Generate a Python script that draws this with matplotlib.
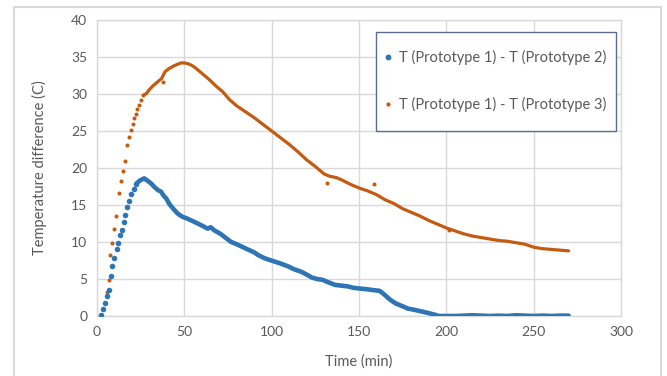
import matplotlib
matplotlib.use("Agg")
import matplotlib.pyplot as plt
from matplotlib.patches import Rectangle

# ---- data ----
# Series 1: T(Prototype 1) - T(Prototype 2)
blue_sparse_t = [2.2, 3.2, 4.4, 5.6, 6.8, 8.0, 8.7, 10.0, 11.2, 11.9, 13.1, 14.1,
                 15.3, 16.3, 17.2, 18.5, 19.7, 21.1, 22.6]
blue_sparse_v = [0.1, 1.0, 1.7, 2.7, 3.5, 5.4, 6.7, 7.8, 9.0, 9.9, 10.9, 11.6,
                 12.7, 13.6, 14.7, 15.6, 16.5, 17.2, 17.9]
blue_dense_t = [22.6, 24.5, 27, 29.4, 31, 33, 35, 36.7, 38, 39.6, 41.5, 44, 46.4, 49, 51.3,
                55, 58.5, 61, 63.4, 65.1, 67, 70.7, 74, 76.8, 80, 85.3, 90, 92.5,
                96, 99.8, 105, 109.5, 113, 116.8, 120, 123, 126, 129, 132, 136.3,
                140, 143.6, 147, 150.8, 155, 158.1, 161.8, 164, 167.8, 171, 175.1,
                178, 182.4, 186, 189.7, 193, 195.8, 200, 205, 210, 215, 220, 225,
                230, 235, 240, 245, 250, 255, 260, 265, 270]
blue_dense_v = [17.9, 18.3, 18.6, 18.2, 17.9, 17.4, 17.0, 16.8, 16.3, 15.9, 15.1, 14.4, 13.8,
                13.4, 13.2, 12.8, 12.4, 12.1, 11.8, 12.0, 11.6, 11.1, 10.5, 10.0,
                9.7, 9.1, 8.6, 8.2, 7.8, 7.5, 7.1, 6.7, 6.3, 6.0, 5.6, 5.2, 5.0,
                4.9, 4.6, 4.2, 4.1, 4.0, 3.8, 3.7, 3.6, 3.5, 3.4, 3.0, 2.2, 1.7,
                1.3, 1.0, 0.8, 0.6, 0.4, 0.2, 0.0, 0.0, 0.0, 0.05, 0.1, 0.05, 0.0,
                0.05, 0.0, 0.1, 0.05, 0.0, 0.05, 0.0, 0.05, 0.05]

# Series 2: T(Prototype 1) - T(Prototype 3)
orange_sparse_t = [2.2, 3.4, 4.6, 5.8, 6.6, 7.5, 8.7, 10.0, 10.7, 12.4, 13.6, 14.8,
                   15.8, 17.2, 18.2, 19.4, 20.4, 21.1, 22.1, 22.8, 24.0, 25.0, 26.5,
                   38.0, 131.9, 158.6, 201.8]
orange_sparse_v = [0.0, 0.9, 1.8, 3.3, 4.9, 8.2, 9.9, 11.7, 13.5, 16.6, 18.3, 19.6,
                   20.9, 23.1, 24.2, 25.2, 25.9, 26.7, 27.3, 28.0, 28.5, 29.2, 29.8,
                   31.6, 18.0, 17.8, 11.6]
orange_dense_t = [26.5, 28.4, 30, 32, 34, 36, 37, 38.9, 41, 44, 46, 48, 50, 52, 54, 56, 58,
                  61, 64, 68, 72, 76, 80, 85, 90, 95, 100, 105, 110, 115, 120,
                  125, 130, 133, 137, 140, 145, 150, 155, 160, 165, 170, 175, 180,
                  185, 190, 195, 200, 205, 210, 215, 220, 225, 230, 235, 240, 245,
                  250, 255, 260, 265, 270]
orange_dense_v = [29.8, 30.1, 30.6, 31.1, 31.5, 31.9, 32.1, 33.0, 33.4, 33.8, 34.0, 34.2,
                  34.2, 34.1, 33.9, 33.6, 33.2, 32.6, 32.0, 31.1, 30.3, 29.2, 28.4,
                  27.6, 26.8, 25.9, 25.0, 24.1, 23.2, 22.2, 21.1, 20.2, 19.2, 18.9,
                  18.7, 18.4, 17.8, 17.3, 16.9, 16.4, 15.7, 15.2, 14.5, 14.0, 13.5,
                  12.9, 12.4, 11.9, 11.5, 11.1, 10.8, 10.6, 10.4, 10.2, 10.1, 9.9,
                  9.7, 9.3, 9.1, 9.0, 8.9, 8.8]

labels = ["T (Prototype 1) - T (Prototype 2)", "T (Prototype 1) - T (Prototype 3)"]
x_ticks = [0, 50, 100, 150, 200, 250, 300]
y_ticks = [0, 5, 10, 15, 20, 25, 30, 35, 40]

BLUE = "#2E75B6"
ORANGE = "#C55A11"
TXT = "#595959"
GRID = "#D9D9D9"

plt.rcParams['font.family'] = ['Lato', 'DejaVu Sans']

W, H = 667, 376
fig = plt.figure(figsize=(6.67, 3.76), dpi=100)
fig.patches.append(Rectangle((14 / W, -0.01), (661 - 14) / W, 1 - 7 / H + 0.01,
                             transform=fig.transFigure, fill=False,
                             edgecolor=GRID, linewidth=1.5, zorder=0))
ax = fig.add_axes([97 / W, 1 - 316 / H, (621 - 97) / W, (316 - 20) / H])

# orange series
ax.plot(orange_dense_t, orange_dense_v, color=ORANGE, linewidth=2.3,
        solid_capstyle='round', solid_joinstyle='round', zorder=3)
ax.plot(orange_sparse_t, orange_sparse_v, linestyle='none', marker='o',
        markersize=2.9, color=ORANGE, markeredgewidth=0, zorder=3)
# blue series
ax.plot(blue_dense_t, blue_dense_v, color=BLUE, linewidth=3.3,
        solid_capstyle='round', solid_joinstyle='round', zorder=4)
ax.plot(blue_sparse_t, blue_sparse_v, linestyle='none', marker='o',
        markersize=4.0, color=BLUE, markeredgewidth=0, zorder=4)

h1 = ax.plot([], [], linestyle='none', marker='o', markersize=4.2, color=BLUE,
             markeredgewidth=0)[0]
h2 = ax.plot([], [], linestyle='none', marker='o', markersize=3.0, color=ORANGE,
             markeredgewidth=0)[0]

ax.set_xlim(0, 300)
ax.set_ylim(0, 40)
ax.set_xticks(x_ticks)
ax.set_yticks(y_ticks)
ax.grid(True, color=GRID, linewidth=1.0)
ax.set_axisbelow(True)
for s in ax.spines.values():
    s.set_color(GRID)
    s.set_linewidth(1.0)
ax.tick_params(length=0, labelsize=10, colors=TXT, pad=7)
ax.set_xlabel("Time (min)", fontsize=10.5, color=TXT, labelpad=12)
ax.set_ylabel("Temperature difference (C)", fontsize=10.5, color=TXT, labelpad=17)

# legend frame drawn separately
fig.patches.append(Rectangle((376 / W, 1 - 131 / H), (616 - 376) / W, (131 - 32) / H,
                             transform=fig.transFigure, facecolor='white',
                             edgecolor="#5B6B93", linewidth=1.0, zorder=5))
leg = fig.legend([h1, h2], labels, loc='center left',
                 bbox_to_anchor=(384 / W, 1 - 81 / H), fontsize=10.5,
                 labelspacing=2.2, borderpad=0, handlelength=0.6,
                 handletextpad=0.45, borderaxespad=0, frameon=False)
leg.set_zorder(6)
for t in leg.get_texts():
    t.set_color(TXT)

fig.savefig("out.png", dpi=100)
